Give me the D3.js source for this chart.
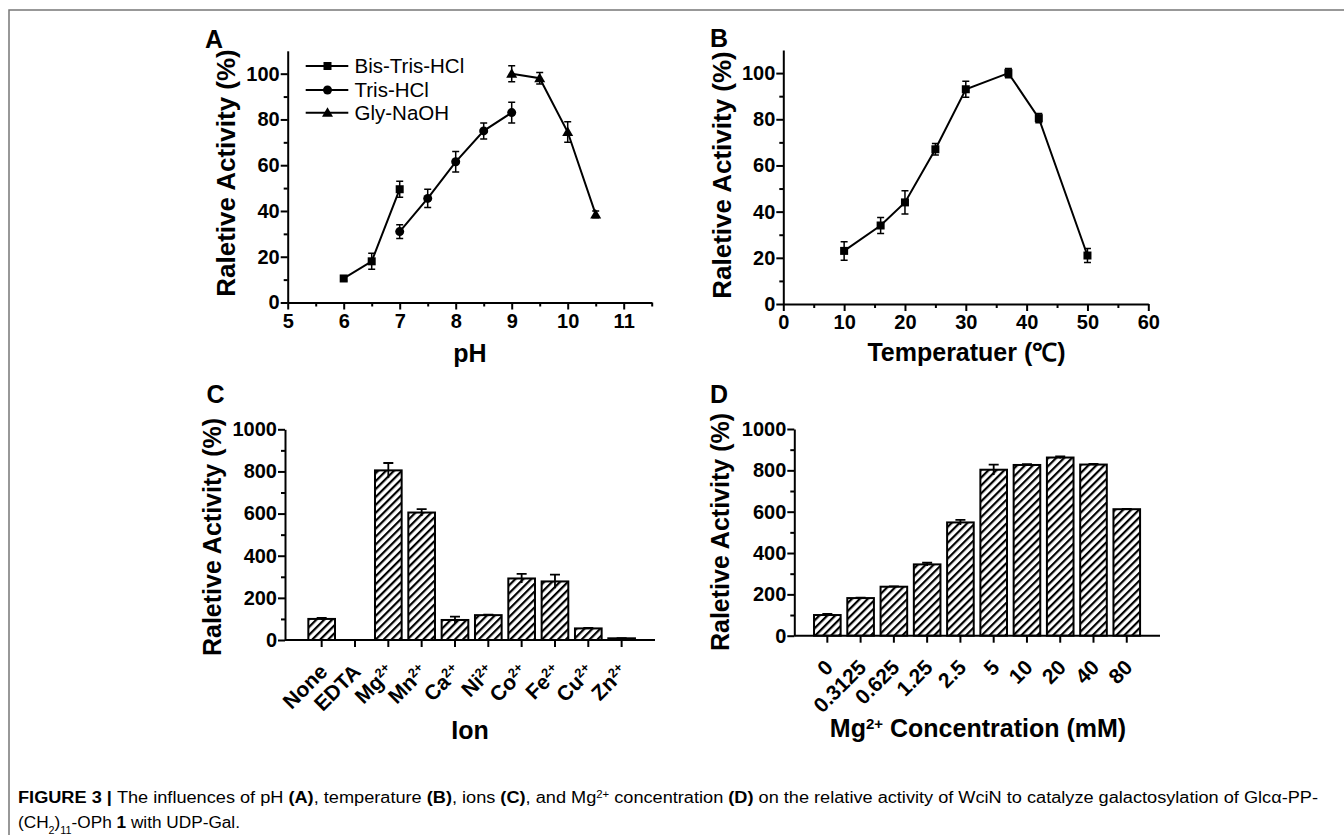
<!DOCTYPE html>
<html><head><meta charset="utf-8">
<script src="https://cdn.jsdelivr.net/npm/d3@7"></script>
<style>body{margin:0;background:#fff} svg{display:block}</style>
</head><body><svg id="c" width="1344" height="835"></svg>
<script>
// ---------- data ----------
const bisTrisPH = [6, 6.5, 7];
const bisTrisVal = [10.5, 18, 49.5];
const bisTrisErr = [1, 3.5, 3.5];
const trisPH = [7, 7.5, 8, 8.5, 9];
const trisVal = [31, 45.5, 61.5, 75, 83];
const trisErr = [3, 4, 4.5, 3.5, 4.5];
const glyPH = [9, 9.5, 10, 10.5];
const glyVal = [100, 98, 74.5, 38.5];
const glyErr = [3.5, 2.5, 4.5, 1.5];
const seriesNames = ["Bis-Tris-HCl", "Tris-HCl", "Gly-NaOH"];

const tempC = [10, 16, 20, 25, 30, 37, 42, 50];
const tempVal = [23, 34, 44, 67, 93, 100, 80.5, 21];
const tempErr = [4, 3.5, 5, 2.5, 3.5, 2, 2, 3];

const ionNames = ["None", "EDTA", "Mg", "Mn", "Ca", "Ni", "Co", "Fe", "Cu", "Zn"];
const ionSup = ["", "", "2+", "2+", "2+", "2+", "2+", "2+", "2+", "2+"];
const ionVal = [100, 0, 805, 605, 95, 118, 292, 278, 55, 8];
const ionErr = [5, 0, 35, 16, 16, 2, 22, 32, 3, 1];

const mgConc = ["0", "0.3125", "0.625", "1.25", "2.5", "5", "10", "20", "40", "80"];
const mgVal = [100, 182, 237, 345, 548, 803, 826, 862, 828, 612];
const mgErr = [5, 2, 2, 8, 12, 25, 4, 5, 3, 2];

const pHTicks = [5, 6, 7, 8, 9, 10, 11];
const pHMinor = [5.5, 6.5, 7.5, 8.5, 9.5, 10.5, 11.5];
const tempTicks = [0, 10, 20, 30, 40, 50, 60];
const tempMinor = [5, 15, 25, 35, 45, 55];
const pctTicks = [0, 20, 40, 60, 80, 100];
const pctMinor = [10, 30, 50, 70, 90];
const barTicks = [0, 200, 400, 600, 800, 1000];
const barMinor = [100, 300, 500, 700, 900];

// ---------- setup ----------
const FONT = '"Liberation Sans", Arial, Helvetica, sans-serif';
const svg = d3.select("#c");
const fmt = d => String(d);

// frame
svg.append("path").attr("d", "M9,835 V10 H1344").attr("fill", "none")
  .attr("stroke", "#777").attr("stroke-width", 1.5);

// hatch pattern
const P = 5.6;
const pat = svg.append("defs").append("pattern").attr("id", "hatch")
  .attr("patternUnits", "userSpaceOnUse").attr("width", P).attr("height", P)
  .attr("patternTransform", "rotate(45)");
pat.append("rect").attr("width", P).attr("height", P).attr("fill", "#fff");
pat.append("rect").attr("x", 0).attr("y", 0).attr("width", 2.2).attr("height", P).attr("fill", "#000");

function styleAxis(g) {
  g.attr("font-family", FONT).attr("font-size", 20).attr("font-weight", "bold");
  g.select(".domain").attr("stroke", "#000").attr("stroke-width", 2);
  g.selectAll(".tick line").attr("stroke", "#000").attr("stroke-width", 2);
  g.selectAll(".tick text").attr("fill", "#000");
}

function text(x, y, str, size, opts = {}) {
  const t = svg.append("text").attr("x", x).attr("y", y).attr("font-family", FONT)
    .attr("font-size", size).attr("font-weight", opts.weight || "bold")
    .attr("text-anchor", opts.anchor || "start").attr("fill", "#000").text(str);
  if (opts.rotate) t.attr("transform", `rotate(${opts.rotate},${x},${y})`);
  return t;
}

function linearAxes(x, y, xTicks, xMinor, yTicks, yMinor) {
  const y0 = y.range()[0], x0 = x.range()[0];
  svg.append("g").attr("transform", `translate(0,${y0})`)
    .call(d3.axisBottom(x).tickValues(xMinor).tickSize(4).tickFormat("").tickSizeOuter(0))
    .call(g => { g.select(".domain").remove(); styleAxis(g); });
  svg.append("g").attr("transform", `translate(${x0},0)`)
    .call(d3.axisLeft(y).tickValues(yMinor).tickSize(4).tickFormat("").tickSizeOuter(0))
    .call(g => { g.select(".domain").remove(); styleAxis(g); });
  svg.append("g").attr("transform", `translate(0,${y0})`)
    .call(d3.axisBottom(x).tickValues(xTicks).tickFormat(fmt).tickSize(7).tickPadding(4).tickSizeOuter(0))
    .call(styleAxis);
  svg.append("g").attr("transform", `translate(${x0},0)`)
    .call(d3.axisLeft(y).tickValues(yTicks).tickFormat(fmt).tickSize(7).tickPadding(1).tickSizeOuter(0))
    .call(styleAxis);
}

function marker(g, type, cx, cy) {
  if (type === "square") g.append("rect").attr("x", cx - 4).attr("y", cy - 4).attr("width", 8).attr("height", 8).attr("fill", "#000");
  else if (type === "circle") g.append("circle").attr("cx", cx).attr("cy", cy).attr("r", 4.5).attr("fill", "#000");
  else g.append("path").attr("d", `M${cx},${cy - 5.5} L${cx + 5.5},${cy + 4} L${cx - 5.5},${cy + 4} Z`).attr("fill", "#000");
}

function lineSeries(x, y, xs, vs, es, type) {
  const g = svg.append("g");
  const pts = xs.map((d, i) => [x(d), y(vs[i])]);
  g.append("path").attr("d", d3.line()(pts)).attr("fill", "none").attr("stroke", "#000").attr("stroke-width", 2);
  xs.forEach((d, i) => {
    const cx = x(d), t = y(vs[i] + es[i]), b = y(vs[i] - es[i]);
    g.append("path").attr("d", `M${cx},${t}V${b}M${cx - 3.5},${t}H${cx + 3.5}M${cx - 3.5},${b}H${cx + 3.5}`)
      .attr("stroke", "#000").attr("stroke-width", 1.5).attr("fill", "none");
  });
  xs.forEach((d, i) => marker(g, type, x(d), y(vs[i])));
}

// ---------- Panel A ----------
{
  const x = d3.scaleLinear().domain([5, 11.5]).range([287.7, 651.7]);
  const y = d3.scaleLinear().domain([0, 110]).range([302.5, 50.8]);
  linearAxes(x, y, pHTicks, pHMinor, pctTicks, pctMinor);
  lineSeries(x, y, bisTrisPH, bisTrisVal, bisTrisErr, "square");
  lineSeries(x, y, trisPH, trisVal, trisErr, "circle");
  lineSeries(x, y, glyPH, glyVal, glyErr, "triangle");
  const types = ["square", "circle", "triangle"];
  const ly = [66, 90, 112.7];
  seriesNames.forEach((n, i) => {
    const g = svg.append("g");
    g.append("line").attr("x1", 305.7).attr("x2", 348.3).attr("y1", ly[i]).attr("y2", ly[i])
      .attr("stroke", "#000").attr("stroke-width", 2);
    marker(g, types[i], 327.5, ly[i]);
    text(354.5, ly[i] + 7, n, 20.5, { weight: "normal" });
  });
  text(205, 48, "A", 25);
  text(470, 362, "pH", 25, { anchor: "middle" });
  text(235, 173, "Raletive Activity (%)", 26, { anchor: "middle", rotate: -90 });
}

// ---------- Panel B ----------
{
  const x = d3.scaleLinear().domain([0, 60]).range([783.3, 1148.3]);
  const y = d3.scaleLinear().domain([0, 110]).range([304, 50]);
  linearAxes(x, y, tempTicks, tempMinor, pctTicks, pctMinor);
  lineSeries(x, y, tempC, tempVal, tempErr, "square");
  text(710, 47, "B", 25);
  text(966.5, 361, "Temperatuer (\u2103)", 25, { anchor: "middle" });
  text(731, 175, "Raletive Activity (%)", 26, { anchor: "middle", rotate: -90 });
}

// ---------- bar panels ----------
function barPanel(cats, sups, vals, errs, bandRange, axisX, y0px, y1000px) {
  const x = d3.scaleBand().domain(cats).range(bandRange).paddingInner(0.2).paddingOuter(0.1);
  const y = d3.scaleLinear().domain([0, 1000]).range([y0px, y1000px]);
  const g = svg.append("g");
  cats.forEach((c, i) => {
    if (vals[i] <= 0) return;
    g.append("rect").attr("x", x(c)).attr("y", y(vals[i])).attr("width", x.bandwidth())
      .attr("height", y(0) - y(vals[i])).attr("fill", "url(#hatch)")
      .attr("stroke", "#000").attr("stroke-width", 2);
  });
  cats.forEach((c, i) => {
    if (errs[i] <= 0) return;
    const cx = x(c) + x.bandwidth() / 2, t = y(vals[i] + errs[i]), b = y(Math.max(0, vals[i] - errs[i]));
    g.append("path").attr("d", `M${cx},${t}V${b}M${cx - 5},${t}H${cx + 5}`)
      .attr("stroke", "#000").attr("stroke-width", 1.8).attr("fill", "none");
  });
  svg.append("g").attr("transform", `translate(${axisX[0]},0)`)
    .call(d3.axisLeft(y).tickValues(barMinor).tickSize(4).tickFormat("").tickSizeOuter(0))
    .call(g => { g.select(".domain").remove(); styleAxis(g); });
  svg.append("g").attr("transform", `translate(${axisX[0]},0)`)
    .call(d3.axisLeft(y).tickValues(barTicks).tickFormat(fmt).tickSize(7).tickPadding(1).tickSizeOuter(0))
    .call(styleAxis);
  svg.append("g").attr("transform", `translate(0,${y0px})`)
    .call(d3.axisBottom(x).tickSize(7).tickFormat("").tickSizeOuter(0))
    .call(g => { g.select(".domain").remove(); styleAxis(g); });
  svg.append("line").attr("x1", axisX[0]).attr("x2", axisX[1]).attr("y1", y0px).attr("y2", y0px)
    .attr("stroke", "#000").attr("stroke-width", 2);
  cats.forEach((c, i) => {
    const cx = x(c) + x.bandwidth() / 2 + 7, cy = y0px + 33;
    const t = svg.append("text").attr("x", cx).attr("y", cy).attr("font-family", FONT)
      .attr("font-size", 21).attr("font-weight", "bold").attr("text-anchor", "end")
      .attr("transform", `rotate(-45,${cx},${cy})`).attr("fill", "#000");
    t.append("tspan").text(c);
    if (sups[i]) t.append("tspan").attr("font-size", 13).attr("baseline-shift", "super").text(sups[i]);
  });
  return x;
}

// Panel C
barPanel(ionNames, ionSup, ionVal, ionErr, [305, 638.3], [285, 655], 640, 429.3);
text(206.5, 403, "C", 25);
text(470, 739, "Ion", 25, { anchor: "middle" });
text(221, 537, "Raletive Activity (%)", 25, { anchor: "middle", rotate: -90 });

// Panel D
barPanel(mgConc, mgConc.map(() => ""), mgVal, mgErr, [810.7, 1143.4], [794.3, 1160], 635.7, 429);
text(710, 403, "D", 25);
{
  const t = text(978, 737, "", 25, { anchor: "middle" });
  t.append("tspan").text("Mg");
  t.append("tspan").attr("font-size", 15).attr("baseline-shift", "super").text("2+");
  t.append("tspan").text(" Concentration (mM)");
}
text(729, 532, "Raletive Activity (%)", 25, { anchor: "middle", rotate: -90 });

// ---------- caption ----------
const CAP = '"Liberation Sans Narrow", "Liberation Sans", Arial, sans-serif';
function caption(y, parts, len) {
  const t = svg.append("text").attr("x", 18).attr("y", y).attr("font-family", CAP)
    .attr("font-size", 16).attr("fill", "#000").attr("textLength", len).attr("lengthAdjust", "spacingAndGlyphs");
  parts.forEach(p => {
    const s = t.append("tspan").text(p.t);
    if (p.b) s.attr("font-weight", "bold");
    if (p.sup) s.attr("font-size", 10).attr("baseline-shift", "super");
    if (p.sub) s.attr("font-size", 10).attr("baseline-shift", "sub");
  });
}
caption(803, [
  { t: "FIGURE 3 | ", b: 1 }, { t: "The influences of pH " }, { t: "(A)", b: 1 }, { t: ", temperature " },
  { t: "(B)", b: 1 }, { t: ", ions " }, { t: "(C)", b: 1 }, { t: ", and Mg" }, { t: "2+", sup: 1 },
  { t: " concentration " }, { t: "(D)", b: 1 },
  { t: " on the relative activity of WciN to catalyze galactosylation of Glc\u03b1-PP-" }
], 1300);
caption(828, [
  { t: "(CH" }, { t: "2", sub: 1 }, { t: ")" }, { t: "11", sub: 1 }, { t: "-OPh " }, { t: "1", b: 1 },
  { t: " with UDP-Gal." }
], 222);
</script></body></html>
